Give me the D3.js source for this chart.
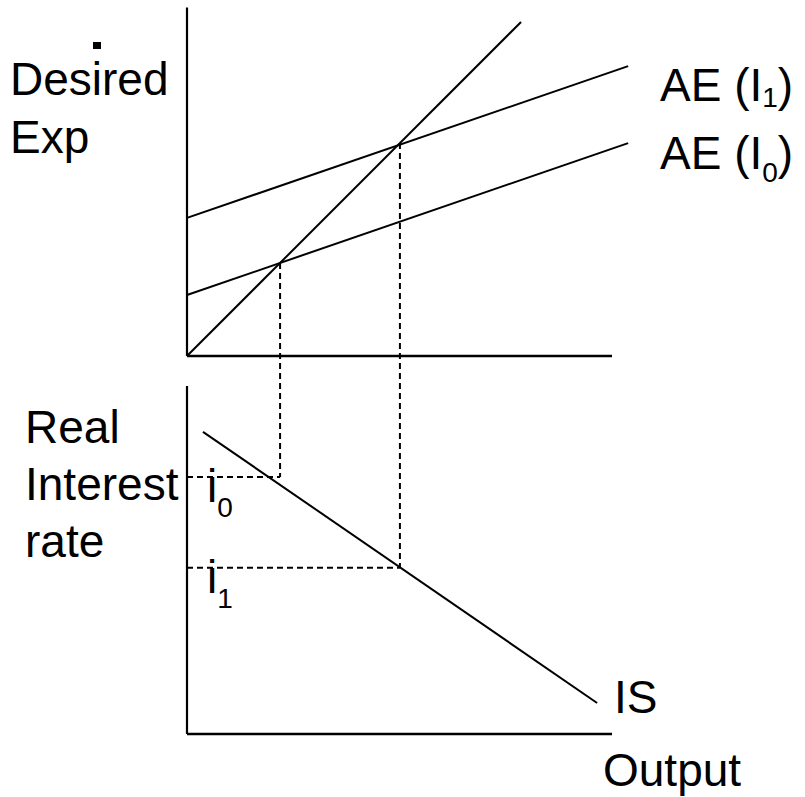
<!DOCTYPE html>
<html>
<head>
<meta charset="utf-8">
<script src="https://cdn.jsdelivr.net/npm/d3@7"></script>
<style>
  html, body { margin: 0; padding: 0; background: #fff; }
  svg { display: block; }
  text { font-family: "Liberation Sans", Arial, sans-serif; fill: #000; }
</style>
</head>
<body>
<svg id="chart" width="805" height="797"></svg>
<script>
// ---- data (in output / expenditure / rate units) ----
const outputDomain = [0, 100];
const topAxisMax = 82;          // Desired Exp axis height
const bottomAxisMax = 81.9;     // Real interest rate axis height
const line45 = [[0, 0], [78.6, 78.6]];
const aeI0 = [[0, 14.35], [103.8, 50.1]];
const aeI1 = [[0, 32.5], [103.8, 68.2]];
const isCurve = [[3.76, 71.1], [96.5, 7.3]];
const equilibriumOutput = [21.9, 50.1];   // Y0, Y1
const equilibriumRate = [60.5, 39.1];     // i0, i1
const aeLabels = ["AE (I", "AE (I"];
const aeSubs = ["1", "0"];
const rateSubs = ["0", "1"];

// ---- scales ----
const svg = d3.select("#chart");
const x = d3.scaleLinear().domain(outputDomain).range([187, 612]);
const yTop = d3.scaleLinear().domain([0, 80]).range([356, 16]);
const yBot = d3.scaleLinear().domain([0, 80]).range([734, 394]);

const lineTop = d3.line().x(d => x(d[0])).y(d => yTop(d[1]));
const lineBot = d3.line().x(d => x(d[0])).y(d => yBot(d[1]));

// ---- axes (no ticks) ----
function axisL(g, s, max) {
  g.append("line")
    .attr("x1", x(0)).attr("x2", x(0))
    .attr("y1", s(0)).attr("y2", s(max))
    .attr("stroke", "#000").attr("stroke-width", 2.2);
  g.append("line")
    .attr("x1", x(0)).attr("x2", x(outputDomain[1]))
    .attr("y1", s(0)).attr("y2", s(0))
    .attr("stroke", "#000").attr("stroke-width", 2.5);
}
axisL(svg.append("g"), yTop, topAxisMax);
axisL(svg.append("g"), yBot, bottomAxisMax);

// ---- dashed guide lines ----
const dash = svg.append("g")
  .attr("stroke", "#000").attr("stroke-width", 2)
  .attr("stroke-dasharray", "6,4").attr("fill", "none");
equilibriumOutput.forEach((yv, i) => {
  const r = equilibriumRate[i];
  dash.append("line")
    .attr("x1", x(yv)).attr("x2", x(yv))
    .attr("y1", yTop(yv)).attr("y2", yBot(r));
  dash.append("line")
    .attr("x1", x(0)).attr("x2", x(yv))
    .attr("y1", yBot(r)).attr("y2", yBot(r));
});

// ---- solid lines ----
const solid = svg.append("g").attr("stroke", "#000")
  .attr("stroke-width", 2).attr("fill", "none");
solid.append("path").attr("d", lineTop(line45));
solid.append("path").attr("d", lineTop(aeI0));
solid.append("path").attr("d", lineTop(aeI1));
solid.append("path").attr("d", lineBot(isCurve));

// ---- labels ----
const FS = 46, SUB = 28;
svg.append("rect").attr("x", 93).attr("y", 42).attr("width", 8).attr("height", 7).attr("fill", "#000");

function label(txt, tx, ty) {
  svg.append("text").attr("x", tx).attr("y", ty)
    .attr("font-size", FS).text(txt);
}
label("Desired", 10, 95);
label("Exp", 10, 153);
label("Real", 25, 443);
label("Interest", 25, 500);
label("rate", 25, 557);
label("IS", 614, 713);
label("Output", 603, 786);

// AE labels with subscripts
const aeBase = [101, 169];
const aeSubDy = [6, 13];
aeLabels.forEach((t, i) => {
  const tx = svg.append("text").attr("x", 660).attr("y", aeBase[i]).attr("font-size", FS);
  tx.append("tspan").text(t);
  tx.append("tspan").attr("font-size", SUB).attr("dy", aeSubDy[i]).text(aeSubs[i]);
  tx.append("tspan").attr("dy", -aeSubDy[i]).text(")");
});

// interest-rate labels
const iBase = [502, 593];
rateSubs.forEach((s, i) => {
  const tx = svg.append("text").attr("x", 207).attr("y", iBase[i]).attr("font-size", FS);
  tx.append("tspan").text("i");
  tx.append("tspan").attr("font-size", SUB).attr("dy", 15).text(s);
});
</script>
</body>
</html>
